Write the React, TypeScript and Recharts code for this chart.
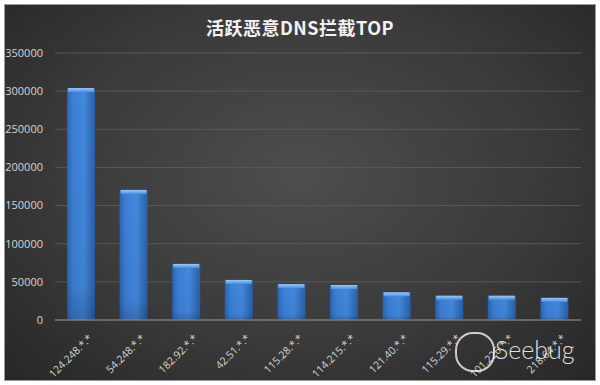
import React from 'react';
import { BarChart, Bar, XAxis, YAxis, CartesianGrid } from 'recharts';

const ips = [
  '124.248.*.*',
  '54.248.*.*',
  '182.92.*.*',
  '42.51.*.*',
  '115.28.*.*',
  '114.215.*.*',
  '121.40.*.*',
  '115.29.*.*',
  '101.226.*.*',
  '218.64.*.*',
];
const hits = [304000, 170500, 73500, 52500, 47000, 45800, 36200, 31800, 31800, 29000];
const yTicks = [0, 50000, 100000, 150000, 200000, 250000, 300000, 350000];

const data = ips.map((ip, i) => ({ ip, hits: hits[i] }));

const font = '"Open Sans", "Liberation Sans", sans-serif';

const IpTick = (props: any) => {
  const { x, y, payload } = props;
  return (
    <g transform={`translate(${x + 9},${y + 8})`}>
      <text
        transform="rotate(-45)"
        textAnchor="end"
        dy={4}
        fill="#d4d4d4"
        fontSize={10.5}
        fontFamily={font}
      >
        {payload.value}
      </text>
    </g>
  );
};

const BevelBar = (props: any) => {
  const { x, y, width, height } = props;
  if (!height || height <= 0) return null;
  return (
    <g>
      <rect x={x} y={y} width={width} height={height} fill="url(#barFill)" />
      <rect x={x} y={y} width={width} height={height} fill="url(#barShade)" />
      <rect x={x + 1} y={y} width={width - 2} height={4} fill="url(#barTop)" />
    </g>
  );
};

const App = () => {
  return (
    <div
      style={{
        position: 'absolute',
        left: 0,
        top: 0,
        width: 600,
        height: 385,
        background: '#ffffff',
      }}
    >
      <div
        style={{
          position: 'absolute',
          left: 4,
          top: 4,
          width: 590,
          height: 375,
          border: '1px solid #9a9a9a',
          background: 'radial-gradient(ellipse at 50% 45%, #4d4d4d 0%, #3b3b3b 55%, #272727 100%)',
        }}
      />
      <div
        style={{
          position: 'absolute',
          left: 0,
          top: 14,
          width: 600,
          textAlign: 'center',
          color: '#f2f2f2',
          fontSize: 18,
          fontWeight: 'bold',
          fontFamily: '"Noto Sans CJK SC", sans-serif',
          letterSpacing: 0.5,
        }}
      >
        活跃恶意DNS拦截TOP
      </div>
      <div style={{ position: 'absolute', left: 0, top: 0 }}>
        <BarChart
          width={600}
          height={385}
          data={data}
          margin={{ top: 53, right: 19, left: 0, bottom: 5 }}
          barSize={28}
        >
          <defs>
            <linearGradient id="barFill" x1="0" y1="0" x2="1" y2="0">
              <stop offset="0%" stopColor="#2b63b3" />
              <stop offset="20%" stopColor="#3b7fd6" />
              <stop offset="60%" stopColor="#4389de" />
              <stop offset="100%" stopColor="#2a5fa8" />
            </linearGradient>
            <linearGradient id="barShade" x1="0" y1="0" x2="0" y2="1">
              <stop offset="0%" stopColor="#000000" stopOpacity={0} />
              <stop offset="85%" stopColor="#000000" stopOpacity={0.05} />
              <stop offset="100%" stopColor="#000000" stopOpacity={0.2} />
            </linearGradient>
            <linearGradient id="barTop" x1="0" y1="0" x2="0" y2="1">
              <stop offset="0%" stopColor="#9cc8f5" />
              <stop offset="100%" stopColor="#4a8fe0" />
            </linearGradient>
          </defs>
          <CartesianGrid vertical={false} stroke="#595959" strokeWidth={1} />
          <XAxis
            dataKey="ip"
            height={60}
            interval={0}
            tick={<IpTick />}
            tickLine={false}
            axisLine={{ stroke: '#8a8a8a', strokeWidth: 1 }}
          />
          <YAxis
            width={55}
            domain={[0, 350000]}
            ticks={yTicks}
            interval={0}
            axisLine={false}
            tickLine={false}
            tickMargin={6}
            tick={{ fill: '#d4d4d4', fontSize: 11, fontFamily: font }}
          />
          <Bar dataKey="hits" shape={<BevelBar />} isAnimationActive={false} />
        </BarChart>
      </div>
      <div
        style={{
          position: 'absolute',
          left: 455,
          top: 332,
          width: 36,
          height: 36,
          borderRadius: 18,
          border: '2px solid rgba(255,255,255,0.75)',
        }}
      />
      <div
        style={{
          position: 'absolute',
          left: 495,
          top: 334,
          color: 'rgba(255,255,255,0.85)',
          fontSize: 25,
          fontWeight: 300,
          fontFamily: '"Lato", sans-serif',
        }}
      >
        Seebug
      </div>
    </div>
  );
};

export default App;
